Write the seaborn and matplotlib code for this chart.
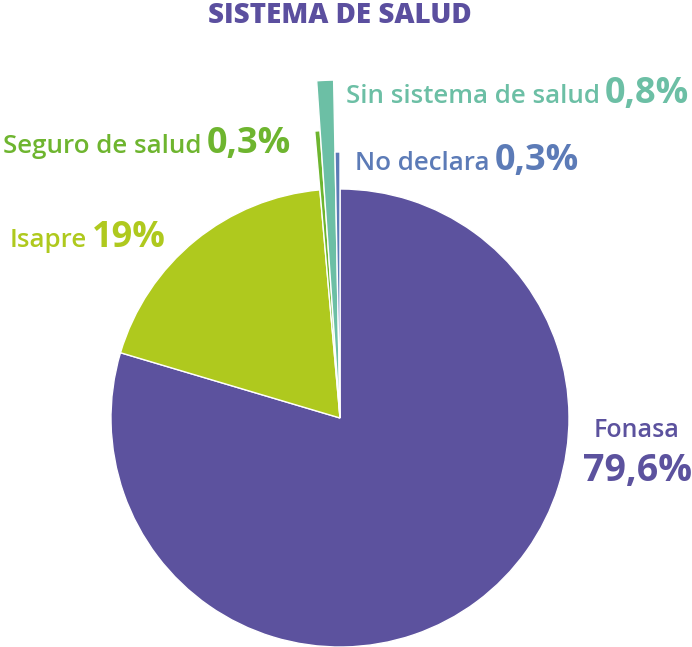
import matplotlib
matplotlib.use("Agg")
import matplotlib.pyplot as plt
import seaborn as sns

# Sistema de salud (%)
categorias = ['Fonasa', 'Isapre', 'Seguro de salud', 'Sin sistema de salud', 'No declara']
porcentajes = [79.6, 19.0, 0.3, 0.8, 0.3]

colores = ['#5c529e', '#afc91e', '#6eb52f', '#6cbfa5', '#5c7bb7']
radios = [229, 229, 288, 338, 266]   # las porciones chicas sobresalen
titulo_color = '#5b4f9f'

sns.set_theme(style='white')
plt.rcParams['font.family'] = ['Open Sans', 'DejaVu Sans']

W, H = 692, 647
fig = plt.figure(figsize=(W / 100, H / 100), dpi=100)
ax = fig.add_axes([0, 0, 1, 1])

cx, cy = 340, H - 418
wedges, _ = ax.pie(porcentajes, colors=colores, startangle=90, counterclock=False,
                   radius=229, center=(cx, cy),
                   wedgeprops=dict(edgecolor='white', linewidth=1))
for w, r in zip(wedges, radios):
    w.set_radius(r)

ax.set_xlim(0, W)
ax.set_ylim(0, H)
ax.set_aspect('equal')
ax.axis('off')

ax.text(340, H - 23, 'SISTEMA DE SALUD', ha='center', va='baseline',
        fontsize=20, fontweight='heavy', color=titulo_color)


def fmt(v):
    return f"{v:g}".replace('.', ',') + '%'


renderer = fig.canvas.get_renderer()

# posiciones (x izquierda, linea base en px desde arriba)
pos = {
    'Isapre': (10, 247),
    'Seguro de salud': (3, 153),
    'Sin sistema de salud': (346, 103),
    'No declara': (355, 170),
}

for cat, val, col in zip(categorias, porcentajes, colores):
    if cat == 'Fonasa':
        ax.text(637, H - 437, cat, ha='center', va='baseline', fontsize=18,
                fontweight='semibold', color=col)
        ax.text(637, H - 481, fmt(val), ha='center', va='baseline', fontsize=27,
                fontweight='bold', color=col)
        continue
    x, y = pos[cat]
    t = ax.text(x, H - y, cat, ha='left', va='baseline', fontsize=18.6,
                fontweight='semibold', color=col)
    bb = t.get_window_extent(renderer=renderer)
    ax.text(bb.x1 + 5, H - y, fmt(val), ha='left', va='baseline', fontsize=26,
            fontweight='bold', color=col)

fig.savefig('out.png', dpi=100)
